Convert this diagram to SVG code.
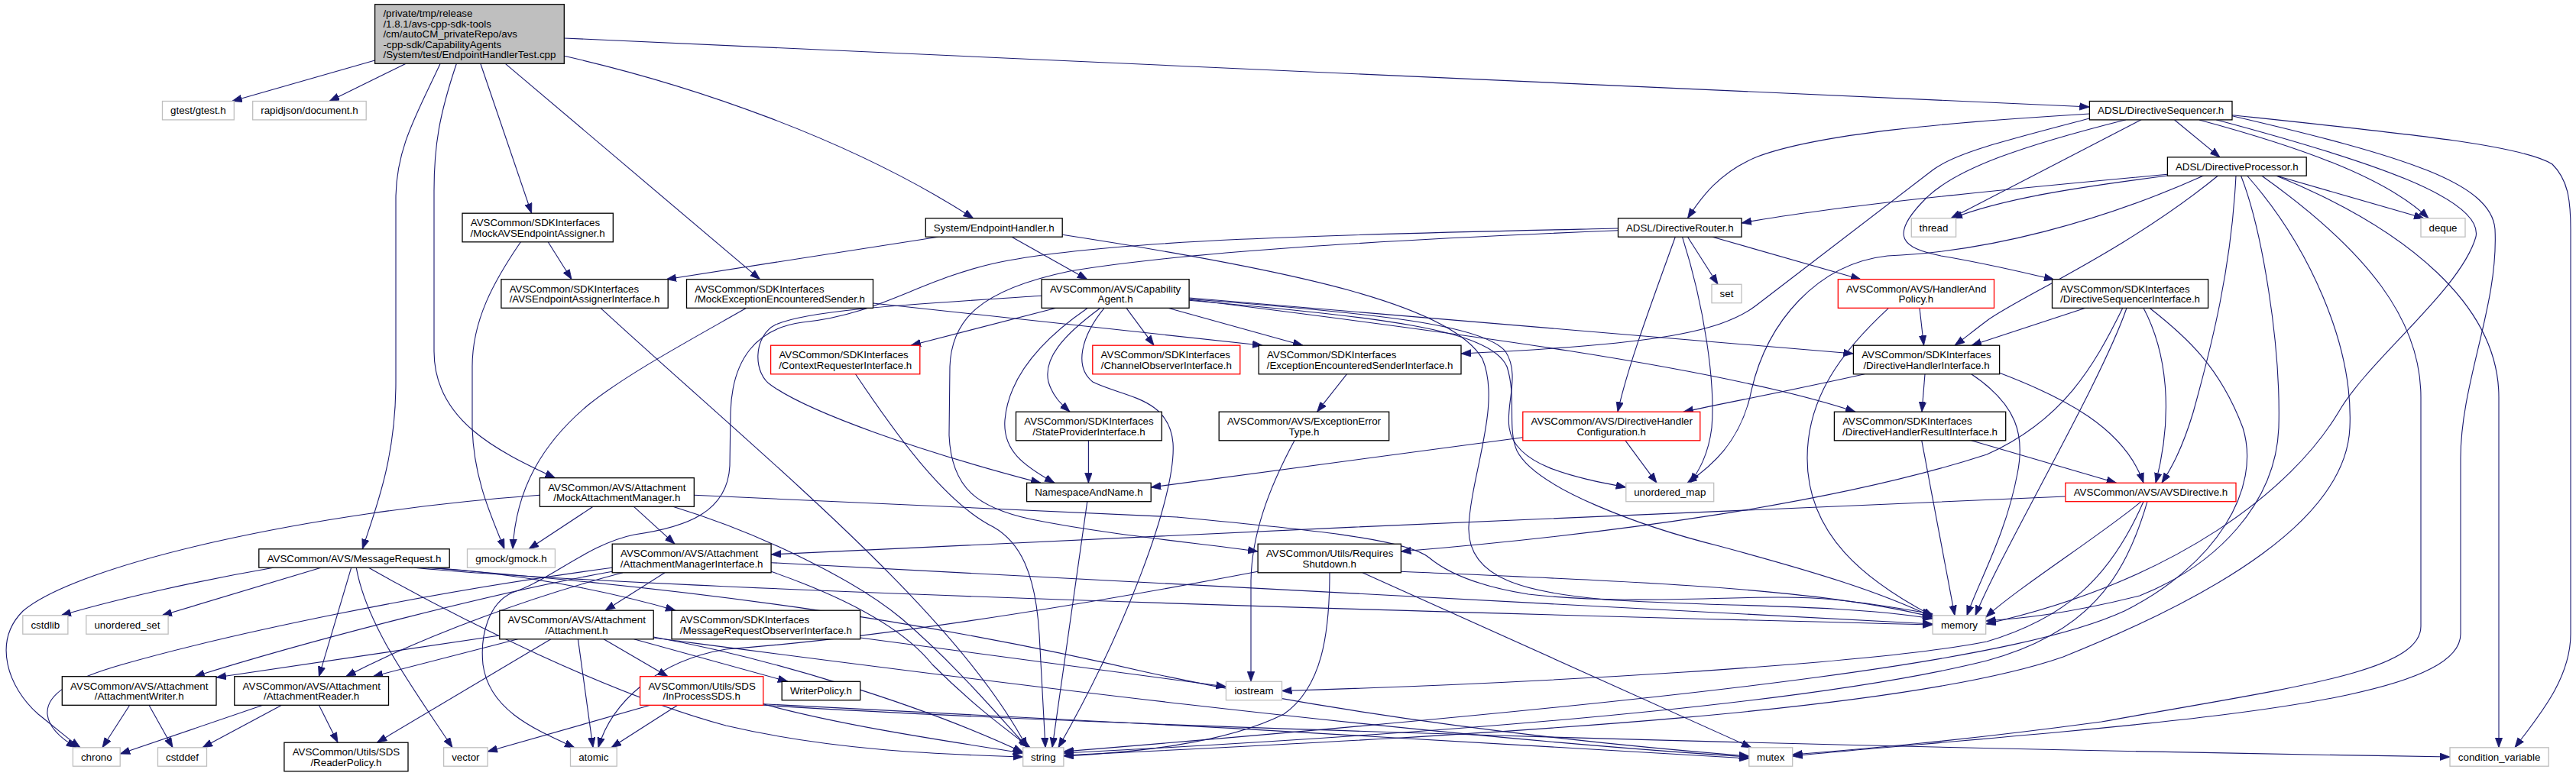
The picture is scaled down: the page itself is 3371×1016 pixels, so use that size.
<svg xmlns="http://www.w3.org/2000/svg" width="3371" height="1016" viewBox="0 0 3371 1016">
<defs>
<marker id="arr" markerUnits="userSpaceOnUse" markerWidth="16" markerHeight="12" refX="13" refY="5" orient="auto"><path d="M0,0.3 L13,5 L0,9.7 z" fill="#191970" stroke="#191970" stroke-width="0.8"/></marker>
<style>
.n rect{fill:#fff;stroke:#000;stroke-width:1.3}
.g rect{stroke:#bfbfbf}
.r rect{stroke:#ff0000}
.m rect{fill:#bfbfbf}
text{font-family:"Liberation Sans",Arial,Helvetica,sans-serif;font-size:13.33px;fill:#000}
.c{text-anchor:middle}
.e path{fill:none;stroke:#191970;stroke-width:1.1;marker-end:url(#arr)}
</style>
</defs>
<rect x="0" y="0" width="3371" height="1016" fill="#fff"/>
<g class="e" id="connectors">
<path d="M490.6,79 L303.6,132.5"/>
<path d="M531.2,83.3 L431,132.5"/>
<path d="M576.2,83.3 C545,150 518,195 518,260 L518,500 C518,600 492,665 474.3,718.8"/>
<path d="M597.4,83.3 C575,150 568,190 568,250 L568,460 C568,550 650,590 726.4,625.7"/>
<path d="M628.8,83.3 L695.6,279.2"/>
<path d="M661.3,83.3 L994.5,365.7"/>
<path d="M738.3,73.3 C900,110 1110,180 1273.7,285.8"/>
<path d="M738.3,50 L2734.4,140"/>
<path d="M717.2,316.8 L748,365.7"/>
<path d="M681.4,316.8 C645,370 618,420 618,480 L618,560 C620,630 645,680 660,718.8"/>
<path d="M1227.6,310.2 L872,365.7"/>
<path d="M1324,310.2 L1422.8,365.7"/>
<path d="M1390.2,307.3 C1700,355 1900,400 1940,470 C1965,530 1925,620 1922,690 C1920,760 2000,775 2100,785 C2250,795 2400,790 2529.2,810"/>
<path d="M786,403.3 C1000,600 1250,800 1344,978.8"/>
<path d="M976.7,403.3 C900,447 820,490 770,530 C710,580 675,640 671,718.8"/>
<path d="M1142.5,397 L1652,452.2"/>
<path d="M1382,403.3 L1192,452.2"/>
<path d="M1363.1,387.3 C1200,398 1060,405 1015,425 C985,440 985,490 1010,505 C1060,540 1200,590 1362,632.3"/>
<path d="M1423.4,403.3 C1370,440 1320,490 1315,550 C1312,590 1340,610 1380,632.3"/>
<path d="M1440,403.3 C1390,440 1365,470 1372,500 C1378,520 1390,530 1400,539.2"/>
<path d="M1445,403.3 C1415,440 1405,480 1430,500 C1470,520 1530,520 1535,580 C1540,650 1470,830 1385,978.8"/>
<path d="M1474,403.3 L1510,452.2"/>
<path d="M1528.5,403.3 L1705,452.2"/>
<path d="M1556.1,390 L2425.4,463"/>
<path d="M1556.1,392 C1900,435 2250,480 2428,539.2"/>
<path d="M1556.1,391.5 C1800,410 1940,425 1970,460 C1990,490 1970,530 1975,560 C1982,610 2060,625 2127.8,638"/>
<path d="M1556.1,393.3 C1800,415 1950,430 1972,480 C1985,520 1972,560 1985,590 C2010,640 2150,690 2250,715 C2380,750 2460,775 2529.2,808"/>
<path d="M1119.5,489.8 C1180,580 1240,660 1300,690 C1335,710 1355,750 1360,830 L1368,978.8"/>
<path d="M1762.4,489.8 L1723.6,539.2"/>
<path d="M1694,576.8 C1660,640 1638,700 1637,760 L1637,892.3"/>
<path d="M2117.5,299 C1800,306 1450,312 1300,345 C1200,368 1150,412 1050,422 C990,430 958,470 956,540 L955,610 C952,670 900,690 830,700 C770,712 720,760 670,776 C640,790 628,830 632,870 C640,930 700,955 752,978.8"/>
<path d="M2117.5,301.7 C1800,315 1550,330 1400,355 C1280,380 1245,420 1243,480 L1242,570 C1245,640 1280,665 1350,680 C1450,700 1560,710 1646.1,722"/>
<path d="M2192.3,310.2 C2160,400 2130,480 2117,539.2"/>
<path d="M2201.5,310.2 C2230,400 2245,500 2240,560 C2235,600 2220,620 2212,632.3"/>
<path d="M2208.5,310.2 L2248,372.3"/>
<path d="M2241,310.2 L2435,365.7"/>
<path d="M2734.4,149 C2550,160 2380,175 2300,205 C2250,225 2225,260 2208.5,285.8"/>
<path d="M2734.4,155 C2620,185 2560,200 2530,222 L2298,400 C2250,437 2150,452 1912,463"/>
<path d="M2782,156.7 C2650,190 2560,220 2520,260 C2470,310 2490,325 2540,335 C2600,345 2640,355 2688,366"/>
<path d="M2802,156.7 L2553,285.8"/>
<path d="M2845.6,157 L2905,205.8"/>
<path d="M2878,157 C3000,190 3120,230 3178,285.8"/>
<path d="M2900,156.7 C3100,210 3250,260 3240,310 C3220,380 3100,470 3060,540 C3000,640 2850,760 2598.7,817"/>
<path d="M2921,151.7 C3150,205 3260,240 3265,300 C3270,400 3220,500 3220,600 L3220,830 C3220,900 3000,930 2700,958 C2550,972 2420,982 2345.7,990"/>
<path d="M2921,150.7 C3150,175 3300,190 3340,215 C3360,235 3364,260 3364,300 L3364,830 C3364,890 3320,940 3291,978.8"/>
<path d="M2836.4,228.3 C2600,250 2400,270 2279,292"/>
<path d="M2836.4,230 C2720,245 2620,260 2555,285.8"/>
<path d="M2883.6,230 C2750,290 2600,330 2470,335 C2380,345 2310,420 2290,520 C2275,580 2240,610 2208,632.3"/>
<path d="M2902.6,230 C2780,330 2640,390 2600,420 C2580,435 2568,445 2558,452.2"/>
<path d="M2926,230 C2920,350 2895,450 2870,540 C2855,590 2840,615 2829,632.3"/>
<path d="M2932.5,230 C2960,300 2985,450 2982,560 C2978,660 2900,740 2800,780 C2700,805 2640,810 2598.7,813"/>
<path d="M2940.6,230 C3020,320 3080,450 3075,560 C3070,680 2900,780 2700,860 C2500,930 2000,960 1391.9,989"/>
<path d="M2959.6,230 C3100,330 3168,420 3168,520 L3168,820 C3168,880 3000,900 2750,945 C2550,972 2420,982 2345.7,988"/>
<path d="M2978.6,230 C3150,300 3270,400 3270,520 L3270,978.8"/>
<path d="M2978.6,230 L3172,285.8"/>
<path d="M2512,403.3 L2517.5,452.2"/>
<path d="M2471.5,403.3 C2410,460 2365,520 2365,600 C2365,700 2440,760 2530,807"/>
<path d="M2729,403.3 L2580,452.2"/>
<path d="M2777.8,403.3 C2740,480 2700,550 2600,595 C2400,660 2100,700 1833.4,722"/>
<path d="M2783,403.3 C2750,500 2620,720 2585,805.8"/>
<path d="M2805,403.3 C2835,460 2845,540 2821,632.3"/>
<path d="M2813,403.3 C2860,440 2905,480 2935,560 C2960,640 2900,740 2780,800 C2650,860 2300,910 1391.9,984"/>
<path d="M2440,489.8 C2350,510 2270,525 2203,539.2"/>
<path d="M2519,489.8 L2515,539.2"/>
<path d="M2579.7,489.8 C2640,530 2650,570 2640,620 C2625,700 2590,760 2574,805.8"/>
<path d="M2616,488 C2700,520 2780,560 2805,632.3"/>
<path d="M1424.4,576.8 L1424.4,632.3"/>
<path d="M1992.8,572.7 L1506.2,638"/>
<path d="M2127,576.8 L2168,632.3"/>
<path d="M2579.7,576.8 L2769.6,632.3"/>
<path d="M2514.8,576.8 L2558,805.8"/>
<path d="M1422.8,656.7 L1377,978.8"/>
<path d="M2702.9,650 C2300,668 1500,700 1009.1,726"/>
<path d="M2802,656.7 C2750,700 2640,770 2598.7,808"/>
<path d="M2805,656.7 C2760,760 2700,810 2600,840 C2450,870 2000,895 1677.5,904.5"/>
<path d="M2810,656.7 C2780,760 2730,830 2600,865 C2400,915 2000,955 1391.9,986"/>
<path d="M706.4,648.3 C400,670 100,740 30,800 C-10,840 10,900 50,935 C75,955 90,968 105,978.8"/>
<path d="M776,663.3 L692,718.8"/>
<path d="M829.5,663.3 L883,712.2"/>
<path d="M908.3,648.3 L1540,677 C1700,692 1840,705 1870,730 C1900,755 1950,770 2000,778 C2150,795 2300,775 2400,785 C2450,790 2490,797 2529.2,804"/>
<path d="M880.7,663.3 C1000,700 1120,760 1180,810 C1250,870 1300,930 1345,978.8"/>
<path d="M870,749.8 L792,799.2"/>
<path d="M801.2,743.3 C560,775 300,830 160,870 C90,890 60,910 62,935 C64,955 85,970 100,978.8"/>
<path d="M801.2,748.3 C650,775 400,840 254.8,885.7"/>
<path d="M815,749.8 C700,780 560,830 452.6,885.7"/>
<path d="M1009.1,736.7 L2529.2,817"/>
<path d="M1009.1,748.3 C1100,780 1180,820 1220,870 C1270,920 1310,950 1348,978.8"/>
<path d="M357.8,743.2 C260,760 150,785 80,805.8"/>
<path d="M420,743.2 L212,805.8"/>
<path d="M459.7,743.2 L417.4,885.7"/>
<path d="M466.2,743.2 C480,820 540,900 592,978.8"/>
<path d="M482.5,743.2 C600,810 800,910 950,950 C1100,985 1250,988 1338.7,991"/>
<path d="M560,743.2 C680,750 800,775 884,799.2"/>
<path d="M542,743.2 C800,768 1600,795 2529.2,818"/>
<path d="M560,743.2 C900,770 1200,810 1500,880 C1800,945 2100,975 2288.8,990"/>
<path d="M1833.4,748.3 C2150,762 2380,770 2529.2,808"/>
<path d="M1740,749.8 C1740,830 1730,900 1680,935 C1600,975 1480,985 1391.9,990"/>
<path d="M1783,749.8 L2292,978.8"/>
<path d="M1646.1,748.3 C1400,795 1150,835 950,850 C860,865 800,920 783,978.8"/>
<path d="M653.8,832 L283,887"/>
<path d="M677.6,836.8 L488,885.7"/>
<path d="M721,836.8 L493.3,972.2"/>
<path d="M756.4,836.8 L776,978.8"/>
<path d="M790,836.8 L874,885.7"/>
<path d="M829.5,836.8 L1031,892.3"/>
<path d="M855.2,834 C1000,860 1200,920 1338.7,985"/>
<path d="M855.2,835 C1200,880 1800,960 2288.8,991"/>
<path d="M1125.7,835 L1604.4,899"/>
<path d="M851,923.3 L638,984"/>
<path d="M886.7,923.3 L800,978.8"/>
<path d="M998.8,921.7 C1100,950 1250,972 1338.7,986"/>
<path d="M998.8,921.7 C1400,940 1900,970 2288.8,993"/>
<path d="M998.8,923.3 C1500,955 2500,980 3206,991"/>
<path d="M169.7,923.3 L134,978.8"/>
<path d="M195,923.3 L226,978.8"/>
<path d="M344,923.3 L157.2,987"/>
<path d="M368.6,923.3 L265,978.8"/>
<path d="M417.4,923.3 L442,972.2"/>
</g>
<g class="n m" id="node0"><rect x="490.6" y="5.7" width="247.7" height="77.6"/><text><tspan x="501.4" y="22.3">/private/tmp/release</tspan><tspan x="501.4" y="35.8">/1.8.1/avs-cpp-sdk-tools</tspan><tspan x="501.4" y="49.3">/cm/autoCM_privateRepo/avs</tspan><tspan x="501.4" y="62.8">-cpp-sdk/CapabilityAgents</tspan><tspan class="c" x="614.45" y="76.3">/System/test/EndpointHandlerTest.cpp</tspan></text></g>
<g class="n g" id="node1"><rect x="212.5" y="132.5" width="93.8" height="24.4"/><text class="c" x="259.4" y="149.4">gtest/gtest.h</text></g>
<g class="n g" id="node2"><rect x="330.7" y="132.5" width="148.5" height="24.4"/><text class="c" x="404.95" y="149.4">rapidjson/document.h</text></g>
<g class="n" id="node3"><rect x="2734.4" y="132.5" width="186.6" height="24.4"/><text class="c" x="2827.7" y="149.4">ADSL/DirectiveSequencer.h</text></g>
<g class="n" id="node4"><rect x="2836.4" y="205.8" width="181.8" height="24.4"/><text class="c" x="2927.3" y="222.7">ADSL/DirectiveProcessor.h</text></g>
<g class="n" id="node5"><rect x="605" y="279.2" width="197.3" height="37.6"/><text><tspan x="615.8" y="296">AVSCommon/SDKInterfaces</tspan><tspan class="c" x="703.65" y="309.5">/MockAVSEndpointAssigner.h</tspan></text></g>
<g class="n" id="node6"><rect x="1211.3" y="285.8" width="178.9" height="24.4"/><text class="c" x="1300.75" y="302.7">System/EndpointHandler.h</text></g>
<g class="n" id="node7"><rect x="2117.5" y="285.8" width="161.5" height="24.4"/><text class="c" x="2198.25" y="302.7">ADSL/DirectiveRouter.h</text></g>
<g class="n g" id="node8"><rect x="2501.3" y="285.8" width="58.3" height="24.4"/><text class="c" x="2530.45" y="302.7">thread</text></g>
<g class="n g" id="node9"><rect x="3168" y="285.8" width="58" height="24.4"/><text class="c" x="3197" y="302.7">deque</text></g>
<g class="n" id="node10"><rect x="655.9" y="365.7" width="218.3" height="37.6"/><text><tspan x="666.7" y="382.5">AVSCommon/SDKInterfaces</tspan><tspan class="c" x="765.05" y="396">/AVSEndpointAssignerInterface.h</tspan></text></g>
<g class="n" id="node11"><rect x="898.5" y="365.7" width="244" height="37.6"/><text><tspan x="909.3" y="382.5">AVSCommon/SDKInterfaces</tspan><tspan class="c" x="1020.5" y="396">/MockExceptionEncounteredSender.h</tspan></text></g>
<g class="n" id="node12"><rect x="1363.1" y="365.7" width="193" height="37.6"/><text><tspan x="1373.9" y="382.5">AVSCommon/AVS/Capability</tspan><tspan class="c" x="1459.6" y="396">Agent.h</tspan></text></g>
<g class="n g" id="node13"><rect x="2240" y="372.3" width="39" height="24.4"/><text class="c" x="2259.5" y="389.2">set</text></g>
<g class="n r" id="node14"><rect x="2405.3" y="365.7" width="204.2" height="37.6"/><text><tspan x="2416.1" y="382.5">AVSCommon/AVS/HandlerAnd</tspan><tspan class="c" x="2507.4" y="396">Policy.h</tspan></text></g>
<g class="n" id="node15"><rect x="2685.5" y="365.7" width="204.1" height="37.6"/><text><tspan x="2696.3" y="382.5">AVSCommon/SDKInterfaces</tspan><tspan class="c" x="2787.55" y="396">/DirectiveSequencerInterface.h</tspan></text></g>
<g class="n r" id="node16"><rect x="1008.6" y="452.2" width="195.2" height="37.6"/><text><tspan x="1019.4" y="469">AVSCommon/SDKInterfaces</tspan><tspan class="c" x="1106.2" y="482.5">/ContextRequesterInterface.h</tspan></text></g>
<g class="n r" id="node17"><rect x="1429.8" y="452.2" width="193" height="37.6"/><text><tspan x="1440.6" y="469">AVSCommon/SDKInterfaces</tspan><tspan class="c" x="1526.3" y="482.5">/ChannelObserverInterface.h</tspan></text></g>
<g class="n" id="node18"><rect x="1647.2" y="452.2" width="264.8" height="37.6"/><text><tspan x="1658" y="469">AVSCommon/SDKInterfaces</tspan><tspan class="c" x="1779.6" y="482.5">/ExceptionEncounteredSenderInterface.h</tspan></text></g>
<g class="n" id="node19"><rect x="2425.4" y="452.2" width="191.2" height="37.6"/><text><tspan x="2436.2" y="469">AVSCommon/SDKInterfaces</tspan><tspan class="c" x="2521" y="482.5">/DirectiveHandlerInterface.h</tspan></text></g>
<g class="n" id="node20"><rect x="1329.5" y="539.2" width="190.8" height="37.6"/><text><tspan x="1340.3" y="556">AVSCommon/SDKInterfaces</tspan><tspan class="c" x="1424.9" y="569.5">/StateProviderInterface.h</tspan></text></g>
<g class="n" id="node21"><rect x="1595.2" y="539.2" width="222.5" height="37.6"/><text><tspan x="1606" y="556">AVSCommon/AVS/ExceptionError</tspan><tspan class="c" x="1706.45" y="569.5">Type.h</tspan></text></g>
<g class="n r" id="node22"><rect x="1992.8" y="539.2" width="232" height="37.6"/><text><tspan x="2003.6" y="556">AVSCommon/AVS/DirectiveHandler</tspan><tspan class="c" x="2108.8" y="569.5">Configuration.h</tspan></text></g>
<g class="n" id="node23"><rect x="2400.4" y="539.2" width="224.3" height="37.6"/><text><tspan x="2411.2" y="556">AVSCommon/SDKInterfaces</tspan><tspan class="c" x="2512.55" y="569.5">/DirectiveHandlerResultInterface.h</tspan></text></g>
<g class="n" id="node24"><rect x="1343.6" y="632.3" width="162.6" height="24.4"/><text class="c" x="1424.9" y="649.2">NamespaceAndName.h</text></g>
<g class="n g" id="node25"><rect x="2127.8" y="632.3" width="114.9" height="24.4"/><text class="c" x="2185.25" y="649.2">unordered_map</text></g>
<g class="n r" id="node26"><rect x="2702.9" y="632.3" width="223.1" height="24.4"/><text class="c" x="2814.45" y="649.2">AVSCommon/AVS/AVSDirective.h</text></g>
<g class="n" id="node27"><rect x="706.4" y="625.7" width="201.9" height="37.6"/><text><tspan x="717.2" y="642.5">AVSCommon/AVS/Attachment</tspan><tspan class="c" x="807.35" y="656">/MockAttachmentManager.h</tspan></text></g>
<g class="n" id="node28"><rect x="801.2" y="712.2" width="207.9" height="37.6"/><text><tspan x="812" y="729">AVSCommon/AVS/Attachment</tspan><tspan class="c" x="905.15" y="742.5">/AttachmentManagerInterface.h</tspan></text></g>
<g class="n g" id="node29"><rect x="611.5" y="718.8" width="114.9" height="24.4"/><text class="c" x="668.95" y="735.7">gmock/gmock.h</text></g>
<g class="n" id="node30"><rect x="338.8" y="718.8" width="249.4" height="24.4"/><text class="c" x="463.5" y="735.7">AVSCommon/AVS/MessageRequest.h</text></g>
<g class="n" id="node31"><rect x="1646.1" y="712.2" width="187.3" height="37.6"/><text><tspan x="1656.9" y="729">AVSCommon/Utils/Requires</tspan><tspan class="c" x="1739.75" y="742.5">Shutdown.h</tspan></text></g>
<g class="n g" id="node32"><rect x="2529.2" y="805.8" width="69.5" height="24.4"/><text class="c" x="2563.95" y="822.7">memory</text></g>
<g class="n" id="node33"><rect x="653.8" y="799.2" width="201.4" height="37.6"/><text><tspan x="664.6" y="816">AVSCommon/AVS/Attachment</tspan><tspan class="c" x="754.5" y="829.5">/Attachment.h</tspan></text></g>
<g class="n" id="node34"><rect x="879" y="799.2" width="246.7" height="37.6"/><text><tspan x="889.8" y="816">AVSCommon/SDKInterfaces</tspan><tspan class="c" x="1002.35" y="829.5">/MessageRequestObserverInterface.h</tspan></text></g>
<g class="n g" id="node35"><rect x="29.8" y="805.8" width="59.1" height="24.4"/><text class="c" x="59.35" y="822.7">cstdlib</text></g>
<g class="n g" id="node36"><rect x="112.8" y="805.8" width="107.3" height="24.4"/><text class="c" x="166.45" y="822.7">unordered_set</text></g>
<g class="n r" id="node37"><rect x="837.6" y="885.7" width="161.2" height="37.6"/><text><tspan x="848.4" y="902.5">AVSCommon/Utils/SDS</tspan><tspan class="c" x="918.2" y="916">/InProcessSDS.h</tspan></text></g>
<g class="n" id="node38"><rect x="1023.2" y="892.3" width="102.5" height="24.4"/><text class="c" x="1074.45" y="909.2">WriterPolicy.h</text></g>
<g class="n g" id="node39"><rect x="1604.4" y="892.3" width="73.1" height="24.4"/><text class="c" x="1640.95" y="909.2">iostream</text></g>
<g class="n" id="node40"><rect x="81.3" y="885.7" width="201.7" height="37.6"/><text><tspan x="92.1" y="902.5">AVSCommon/AVS/Attachment</tspan><tspan class="c" x="182.15" y="916">/AttachmentWriter.h</tspan></text></g>
<g class="n" id="node41"><rect x="306.8" y="885.7" width="201.7" height="37.6"/><text><tspan x="317.6" y="902.5">AVSCommon/AVS/Attachment</tspan><tspan class="c" x="407.65" y="916">/AttachmentReader.h</tspan></text></g>
<g class="n g" id="node42"><rect x="95.4" y="978.8" width="61.8" height="24.4"/><text class="c" x="126.3" y="995.7">chrono</text></g>
<g class="n g" id="node43"><rect x="206.5" y="978.8" width="64" height="24.4"/><text class="c" x="238.5" y="995.7">cstddef</text></g>
<g class="n" id="node44"><rect x="371.9" y="972.2" width="162.1" height="37.6"/><text><tspan x="382.7" y="989">AVSCommon/Utils/SDS</tspan><tspan class="c" x="452.95" y="1002.5">/ReaderPolicy.h</tspan></text></g>
<g class="n g" id="node45"><rect x="580.6" y="978.8" width="57.5" height="24.4"/><text class="c" x="609.35" y="995.7">vector</text></g>
<g class="n g" id="node46"><rect x="746.5" y="978.8" width="60.7" height="24.4"/><text class="c" x="776.85" y="995.7">atomic</text></g>
<g class="n g" id="node47"><rect x="1338.7" y="978.8" width="53.2" height="24.4"/><text class="c" x="1365.3" y="995.7">string</text></g>
<g class="n g" id="node48"><rect x="2288.8" y="978.8" width="56.9" height="24.4"/><text class="c" x="2317.25" y="995.7">mutex</text></g>
<g class="n g" id="node49"><rect x="3206" y="978.8" width="129.2" height="24.4"/><text class="c" x="3270.6" y="995.7">condition_variable</text></g>
</svg>
